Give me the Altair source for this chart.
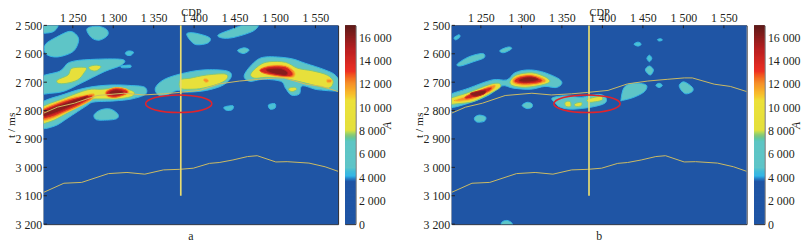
import altair as alt
import pandas as pd

FONT = "Liberation Serif"
INK = "#231f20"

x_ticks = [1250, 1300, 1350, 1400, 1450, 1500, 1550]
y_ticks = [2500, 2600, 2700, 2800, 2900, 3000, 3100, 3200]
bar_ticks = [0, 2000, 4000, 6000, 8000, 10000, 12000, 14000, 16000]
X_DOM = [1214, 1578]
Y_DOM = [2500, 3200]

color_stops = [0, 3600, 3850, 4050, 4400, 4800, 7000, 7500, 8000, 10500, 11000, 12000, 13000, 15000, 17000]
color_vals = ["#1f55a5", "#1f55a5", "#2a80c8", "#35b5e6", "#3fbadc", "#5ec5c8", "#5ec5c4", "#80c67c", "#e4e03c",
              "#ece13a", "#f7c22e", "#f58f2a", "#ee3023", "#b51e20", "#5c1a18"]
bar_levels = list(range(0, 17000, 100))

upper_t = [(1214, 2809), (1231, 2788), (1252, 2774), (1280, 2747), (1313, 2739), (1337, 2745), (1362, 2741), (1382, 2736),
           (1407, 2729), (1431, 2706), (1456, 2696), (1480, 2690), (1501, 2685), (1511, 2685), (1538, 2707), (1558, 2715), (1578, 2733)]
lower_t = [(1214, 3088), (1239, 3056), (1261, 3053), (1294, 3022), (1317, 3018), (1339, 3024), (1362, 3009), (1382, 3007),
           (1399, 3003), (1419, 2986), (1431, 2983), (1448, 2974), (1466, 2962), (1478, 2959), (1501, 2981), (1515, 2980),
           (1542, 2985), (1562, 2998), (1578, 3014)]
ellipse = [(1340, 2776), (1352, 2754), (1381, 2745), (1410, 2754), (1422, 2776), (1410, 2798), (1381, 2807), (1352, 2798)]
well_cdp = 1383.5
well_t = [2500, 3100]

a_light = [
    [(1315, 2597), (1319, 2590), (1325, 2594), (1322, 2605), (1317, 2605)],
    [(1310, 2643), (1321, 2640), (1321, 2648), (1311, 2649)],
    [(1437, 2788), (1448, 2783), (1447, 2797), (1440, 2799)],
    [(1492, 2780), (1500, 2776), (1500, 2791), (1494, 2795)],
]
a_teal = [
    [(1205, 2495), (1230, 2495), (1229, 2515), (1221, 2526), (1205, 2525)],
    [(1217, 2564), (1230, 2541), (1246, 2521), (1255, 2535), (1257, 2558), (1250, 2593), (1232, 2611), (1219, 2605), (1215, 2587)],
    [(1267.5, 2512), (1281, 2503), (1292, 2515), (1293, 2535), (1283, 2552), (1273, 2543)],
    [(1208, 2685), (1234, 2661), (1246, 2630), (1272, 2620), (1311, 2620), (1310, 2640), (1289, 2663), (1260, 2704), (1240, 2731), (1223, 2739), (1208, 2738)],
    [(1208, 2780), (1240, 2742), (1268, 2719), (1297, 2710), (1323, 2712), (1339, 2718), (1340, 2742), (1323, 2759), (1301, 2766), (1276, 2770), (1266, 2785), (1244, 2826), (1227, 2855), (1208, 2858)],
    [(1276.5, 2814), (1285, 2797), (1297, 2795), (1306, 2814), (1303, 2830), (1285, 2834), (1278, 2830)],
    [(1352, 2721), (1362, 2692), (1383, 2671), (1411, 2657), (1440, 2660), (1446, 2680), (1436, 2710), (1415, 2729), (1391, 2735), (1379, 2729), (1366, 2745), (1356, 2745)],
    [(1391, 2529), (1401, 2527), (1419, 2543), (1417, 2562), (1403, 2568), (1395, 2552)],
    [(1430, 2533), (1448, 2512), (1462, 2498), (1479, 2495), (1473, 2520), (1448, 2543), (1434, 2544)],
    [(1454, 2587), (1462, 2579), (1468, 2587), (1462, 2599), (1456, 2595)],
    [(1462, 2675), (1475, 2628), (1489, 2611), (1518, 2616), (1538, 2634), (1562, 2657), (1575.5, 2678), (1584, 2727), (1554, 2727), (1534, 2713), (1530, 2742), (1520, 2745), (1513, 2721), (1507, 2697), (1485, 2690), (1468.5, 2697)],
]
a_yellow = [
    [(1231, 2692), (1244, 2675), (1249, 2651), (1266, 2649), (1264, 2667), (1256, 2692), (1242, 2704), (1232, 2704)],
    [(1270, 2646), (1279, 2640), (1285, 2646), (1279, 2660), (1272, 2657)],
    [(1208, 2795), (1240, 2756), (1268, 2727), (1285, 2725), (1309, 2721), (1325, 2733), (1323, 2750), (1305, 2759), (1285, 2759), (1270, 2762), (1258, 2785), (1240, 2814), (1223, 2838), (1208, 2844)],
    [(1383, 2692), (1395, 2686), (1415, 2675), (1438, 2671), (1441, 2686), (1432, 2704), (1411, 2721), (1395, 2725), (1383, 2721)],
    [(1470, 2671), (1481, 2640), (1493, 2628), (1513, 2630), (1528, 2651), (1546, 2660), (1564.5, 2675), (1572, 2698), (1566.5, 2721), (1550, 2712), (1530, 2698), (1509, 2686), (1489, 2683), (1475, 2686)],
    [(1517.5, 2721), (1524, 2718), (1527, 2725), (1522, 2733), (1517.5, 2729)],
]
a_orange = [
    [(1208, 2802), (1240, 2762), (1262, 2747), (1276, 2741), (1274, 2760), (1260, 2783), (1240, 2809), (1223, 2830), (1208, 2836)],
    [(1291, 2731), (1303, 2719), (1317, 2725), (1318, 2741), (1303, 2755), (1292, 2750)],
    [(1412, 2689), (1416, 2689), (1418, 2696), (1415, 2701), (1412, 2696)],
    [(1481, 2657), (1493, 2642), (1513, 2642), (1524, 2663), (1522, 2683), (1505, 2681), (1489, 2671)],
    [(1564.5, 2690), (1570, 2692), (1569, 2701), (1564.5, 2701)],
]
a_red = [
    [(1208, 2805), (1240, 2767), (1260, 2752), (1273, 2746), (1272, 2757), (1258, 2780), (1240, 2803), (1223, 2823), (1208, 2830)],
    [(1292, 2733), (1303, 2721), (1315, 2727), (1317, 2739), (1303, 2753), (1293, 2748)],
    [(1482, 2655), (1495, 2644), (1513, 2646), (1522, 2669), (1518, 2680), (1501, 2676), (1485, 2667)],
]
a_dark = [
    [(1215, 2803), (1238, 2776), (1262, 2753), (1269, 2750), (1260, 2768), (1240, 2795), (1223, 2814), (1215, 2820)],
    [(1295, 2736), (1303, 2727), (1312, 2732), (1311, 2741), (1301, 2746)],
    [(1489, 2655), (1505, 2651), (1515, 2663), (1513, 2676), (1497, 2669)],
]

b_light = [
    [(1217, 2543), (1223, 2533), (1224, 2541), (1219, 2551)],
    [(1439, 2566), (1444, 2559), (1448, 2566), (1444, 2573)],
    [(1455, 2616), (1458, 2605), (1461, 2616), (1458, 2628)],
    [(1466, 2711), (1470, 2704), (1474, 2711), (1470, 2719)],
    [(1468, 2550), (1472, 2547), (1474, 2552), (1470, 2555)],
]
b_teal = [
    [(1221, 2636), (1235, 2611), (1252, 2599), (1254, 2614), (1241, 2628), (1225, 2643)],
    [(1274, 2587), (1284, 2576), (1288, 2582), (1280, 2595), (1275, 2595)],
    [(1208, 2750), (1235, 2721), (1264, 2692), (1282, 2692), (1292, 2667), (1307, 2657), (1325, 2663), (1345, 2686), (1350, 2704), (1343, 2719), (1329, 2715), (1311, 2725), (1290, 2721), (1276, 2713), (1260, 2745), (1235, 2774), (1208, 2790)],
    [(1301, 2782), (1307, 2771), (1313, 2776), (1313, 2788), (1307, 2793)],
    [(1242, 2826), (1248, 2816), (1256, 2823), (1254, 2838), (1245, 2840)],
    [(1338, 2756), (1354, 2748), (1374, 2753), (1395, 2743), (1404, 2753), (1403, 2774), (1386, 2788), (1362, 2795), (1348, 2788), (1342, 2774)],
    [(1423, 2762), (1427, 2718), (1439, 2704), (1454, 2710), (1452, 2733), (1439, 2753), (1425, 2764)],
    [(1453, 2657), (1458, 2643), (1463, 2657), (1459, 2675)],
    [(1495, 2710), (1501, 2699), (1511, 2718), (1511, 2733), (1503, 2741), (1497, 2727)],
    [(1276, 3193), (1282, 3187), (1288, 3195), (1288, 3208), (1276, 3208)],
]
b_yellow = [
    [(1208, 2762), (1235, 2736), (1260, 2709), (1272, 2704), (1274, 2718), (1262, 2739), (1241, 2768), (1221, 2776), (1208, 2778)],
    [(1286, 2698), (1294, 2675), (1313, 2667), (1329, 2681), (1335, 2698), (1325, 2710), (1305, 2718), (1290, 2713)],
    [(1354, 2771), (1360, 2768), (1361, 2785), (1355, 2785)],
    [(1366, 2776), (1374, 2771), (1374, 2783), (1367, 2785)],
    [(1382, 2760), (1398, 2750), (1399, 2764), (1384, 2771)],
]
b_orange = [
    [(1219, 2762), (1239, 2743), (1262, 2713), (1268, 2713), (1262, 2733), (1241, 2759), (1223, 2767)],
    [(1289, 2692), (1297, 2678), (1313, 2674), (1327, 2686), (1330, 2698), (1321, 2706), (1305, 2711), (1292, 2706)],
]
b_red = [
    [(1231, 2751), (1245, 2733), (1262, 2718), (1261, 2730), (1245, 2750), (1233, 2759)],
    [(1292, 2692), (1299, 2681), (1313, 2678), (1324, 2689), (1325, 2698), (1317, 2704), (1303, 2706), (1293, 2701)],
]
b_dark = [
    [(1237, 2740), (1248, 2731), (1256, 2729), (1254, 2741), (1243, 2750)],
    [(1297, 2692), (1305, 2683), (1315, 2683), (1321, 2692), (1311, 2699), (1300.5, 2699)],
]

color_scale = alt.Scale(domain=color_stops, range=color_vals, clamp=True)
SCALE_X = alt.Scale(domain=X_DOM, nice=False, zero=False)
SCALE_Y = alt.Scale(domain=Y_DOM, nice=False, zero=False, reverse=True)
SPACE_EXPR = "replace(format(datum.value, ','), ',', ' ')"
X_AXIS = alt.Axis(orient="top", values=x_ticks, labelExpr=SPACE_EXPR, title="CDP", ticks=False, domain=False, grid=False,
                  labelPadding=0.5, titlePadding=-6, titleFontSize=10.5, labelFlush=False, labelOverlap=False)
Y_AXIS = alt.Axis(orient="left", values=y_ticks, labelExpr=SPACE_EXPR, title="t / ms", ticks=False, domain=False, grid=False,
                  labelPadding=2, titlePadding=-1.5, titleFontSize=11.5, labelFlush=False, labelOverlap=False)


def poly_frame(groups):
    rows = []
    pid = 0
    for level, edge, polys in groups:
        for poly in polys:
            pid += 1
            for i, (c, t) in enumerate(poly):
                rows.append({"pid": pid, "i": i, "cdp": c, "t": t, "level": level, "edge": edge})
    return pd.DataFrame(rows)


def line_frame(pts):
    return pd.DataFrame([{"i": i, "cdp": c, "t": t} for i, (c, t) in enumerate(pts)])


def panel(groups, title, width):
    x_enc = alt.X("cdp:Q", scale=SCALE_X, axis=X_AXIS)
    y_enc = alt.Y("t:Q", scale=SCALE_Y, axis=Y_AXIS)

    back = alt.Chart(pd.DataFrame([{"cdp": X_DOM[0], "x2": X_DOM[1], "t": Y_DOM[0], "y2": Y_DOM[1], "level": 1500}])).mark_rect().encode(
        x=x_enc, x2="x2:Q", y=y_enc, y2="y2:Q",
        fill=alt.Fill("level:Q", scale=color_scale, legend=None),
    )
    blobs = alt.Chart(poly_frame(groups)).mark_line(interpolate="cardinal-closed", strokeWidth=1, clip=True).encode(
        x=x_enc, y=y_enc, order="i:Q", detail="pid:N",
        fill=alt.Fill("level:Q", scale=color_scale, legend=None),
        stroke=alt.Stroke("edge:Q", scale=color_scale, legend=None),
    )
    upper = alt.Chart(line_frame(upper_t)).mark_line(color="#cdbb62", strokeWidth=1, clip=True).encode(x=x_enc, y=y_enc, order="i:Q")
    lower = alt.Chart(line_frame(lower_t)).mark_line(color="#cdbb62", strokeWidth=1, clip=True).encode(x=x_enc, y=y_enc, order="i:Q")
    well = alt.Chart(pd.DataFrame([{"cdp": well_cdp, "t": well_t[0], "t2": well_t[1]}])).mark_rule(color="#e8dc70", strokeWidth=1.7).encode(
        x=x_enc, y=y_enc, y2="t2:Q")
    ring = alt.Chart(line_frame(ellipse)).mark_line(color="#e0242c", strokeWidth=1.5, interpolate="cardinal-closed", clip=True).encode(
        x=x_enc, y=y_enc, order="i:Q")
    xt = alt.Chart(pd.DataFrame({"cdp": x_ticks, "t": Y_DOM[0], "t2": Y_DOM[0] + 10})).mark_rule(color=INK, strokeWidth=1).encode(
        x=x_enc, y=y_enc, y2="t2:Q")
    yt = alt.Chart(pd.DataFrame({"t": y_ticks, "cdp": X_DOM[0], "c2": X_DOM[0] + 4})).mark_rule(color=INK, strokeWidth=1).encode(
        y=y_enc, x=x_enc, x2="c2:Q")
    return alt.layer(back, blobs, upper, lower, well, ring, xt, yt).properties(
        width=width, height=200.5,
        title=alt.TitleParams(title, orient="bottom", offset=1, anchor="middle", font=FONT, fontSize=12, fontWeight="normal", color=INK),
    )


def colorbar():
    df = pd.DataFrame({"v": bar_levels})
    return alt.Chart(df).transform_calculate(v2="min(datum.v + 200, 17000)").mark_rect().encode(
        y=alt.Y("v:Q", scale=alt.Scale(domain=[0, 17000], nice=False, zero=False),
                axis=alt.Axis(orient="right", values=bar_ticks, labelExpr=SPACE_EXPR, title="A", titleFontStyle="italic", titleAngle=270,
                              ticks=False, domain=False, grid=False, labelPadding=3, titlePadding=2, titleFontSize=12, labelFlush=False, labelOverlap=False)),
        y2="v2:Q",
        fill=alt.Fill("v:Q", scale=color_scale, legend=None),
    ).properties(width=10.5, height=200.5)


a_groups = [(4600, 4100, a_light), (5500, 4100, a_teal), (9000, 7500, a_yellow), (12000, 11000, a_orange), (14000, 12500, a_red), (16000, 15000, a_dark)]
b_groups = [(4600, 4100, b_light), (5500, 4100, b_teal), (9000, 7500, b_yellow), (12000, 11000, b_orange), (14000, 12500, b_red), (16000, 15000, b_dark)]

left = alt.hconcat(panel(a_groups, "a", 297), colorbar(), spacing=5)
right = alt.hconcat(panel(b_groups, "b", 297.5), colorbar(), spacing=6)

chart = alt.hconcat(left, right, spacing=20.6).properties(
    padding={"left": -3, "top": -1.5, "right": 0, "bottom": 0}, background="white"
).configure_view(stroke=INK, strokeWidth=1).configure_axis(
    labelFont=FONT, labelFontSize=12, labelColor=INK, titleFont=FONT, titleFontWeight="normal", titleColor=INK
)

chart.save("out.html", embed_options={"renderer": "svg", "actions": False})
